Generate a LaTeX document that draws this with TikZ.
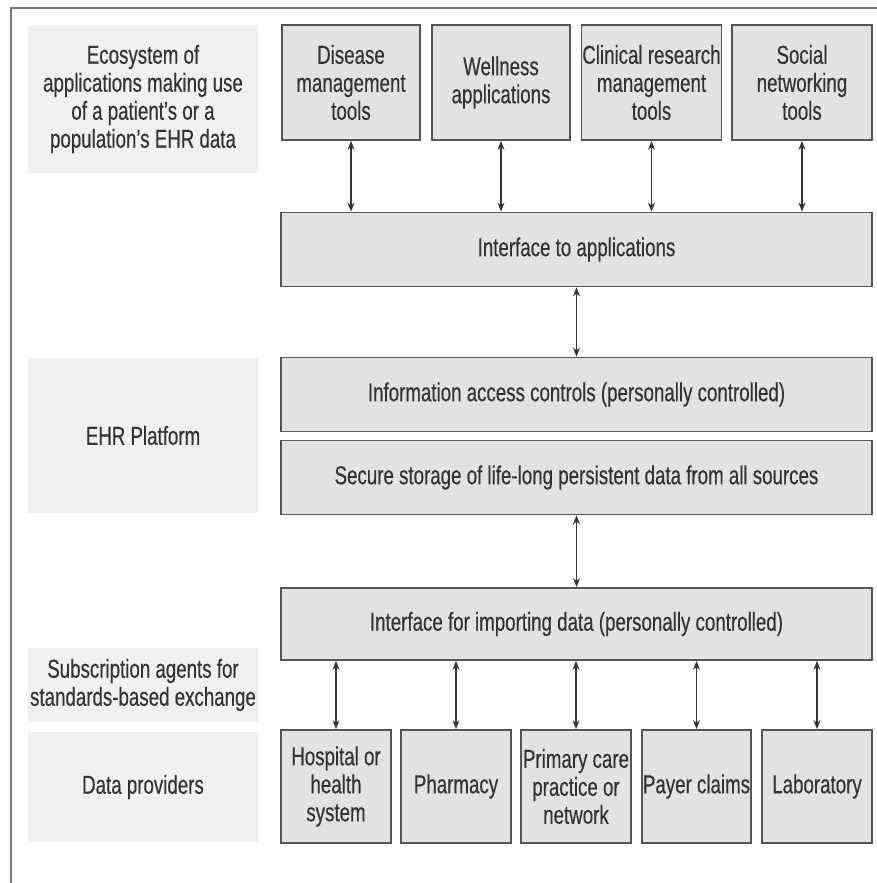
\documentclass[tikz,border=0pt]{standalone}
\usepackage{fontspec}
\setmainfont{Liberation Sans}[FakeStretch=0.72,FakeBold=0.4]
\usetikzlibrary{arrows.meta}
\definecolor{boxfill}{HTML}{E2E2E2}
\definecolor{labelfill}{HTML}{F0F0F0}
\definecolor{boxline}{HTML}{555555}
\definecolor{ink}{HTML}{333333}
\begin{document}
\begin{tikzpicture}[x=1pt,y=-1pt,
  every node/.style={font=\fontsize{26}{28}\selectfont, text=ink, align=center, inner sep=0pt},
  tile/.style={draw=boxline, fill=boxfill, line width=1.8pt},
  caption/.style={fill=labelfill},
  link/.style={draw=ink, line width=1.3pt, {Stealth[length=9pt,width=7pt]}-{Stealth[length=9pt,width=7pt]}}
]
\useasboundingbox (0,0) rectangle (877,883);
\fill[white] (0,0) rectangle (877,883);
% frame
\draw[boxline!80, line width=2pt] (11,883) -- (11,8) -- (877,8);

% left-hand captions
\node[caption, minimum width=230pt, minimum height=148pt] (lEco) at (143,99)
  {Ecosystem of\\applications making use\\of a patient's or a\\population's EHR data};
\node[caption, minimum width=230pt, minimum height=155pt] (lPlat) at (143,435.5) {EHR Platform};
\node[caption, minimum width=230pt, minimum height=74pt] (lSub) at (143,685)
  {Subscription agents for\\standards-based exchange};
\node[caption, minimum width=230pt, minimum height=110pt] (lProv) at (143,787) {Data providers};

% applications
\node[tile, minimum width=138pt, minimum height=115pt] (dis) at (351,82.5) {Disease\\management\\tools};
\node[tile, minimum width=138pt, minimum height=115pt] (well) at (501,82.5) {Wellness\\applications};
\node[tile, minimum width=140pt, minimum height=115pt] (clin) at (651.5,82.5) {Clinical research\\management\\tools};
\node[tile, minimum width=140pt, minimum height=115pt] (soc) at (802,82.5) {Social\\networking\\tools};

% platform layers
\node[tile, minimum width=591pt, minimum height=74pt] (iface) at (576.5,249.5) {Interface to applications};
\node[tile, minimum width=591pt, minimum height=74pt] (access) at (576.5,394.5) {Information access controls (personally controlled)};
\node[tile, minimum width=591pt, minimum height=74pt] (store) at (576.5,477.5) {Secure storage of life-long persistent data from all sources};
\node[tile, minimum width=591pt, minimum height=72pt] (import) at (576.5,624) {Interface for importing data (personally controlled)};

% data providers
\node[tile, minimum width=110pt, minimum height=113pt] (hosp) at (336,786.5) {Hospital or\\health\\system};
\node[tile, minimum width=110pt, minimum height=113pt] (pharm) at (456,786.5) {Pharmacy};
\node[tile, minimum width=110pt, minimum height=113pt] (prim) at (576,786.5) {Primary care\\practice or\\network};
\node[tile, minimum width=109pt, minimum height=113pt] (payer) at (696.5,786.5) {Payer claims};
\node[tile, minimum width=110pt, minimum height=113pt] (lab) at (817,786.5) {Laboratory};

% connectors
\foreach \a in {dis,well,clin,soc}
  \draw[link] (\a.south) -- (\a.south |- iface.north);
\draw[link] (iface.south) -- (access.north);
\draw[link] (store.south) -- (import.north);
\foreach \p in {hosp,pharm,prim,payer,lab}
  \draw[link] (\p.north |- import.south) -- (\p.north);
\end{tikzpicture}
\end{document}
